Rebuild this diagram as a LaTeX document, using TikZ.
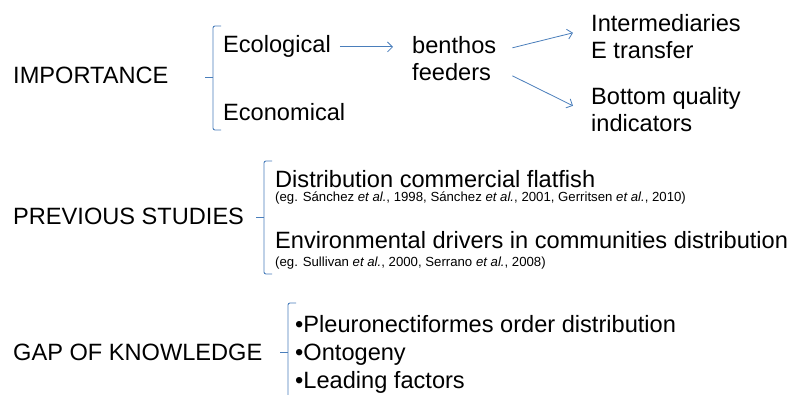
\documentclass[tikz,border=0pt]{standalone}
\usepackage{fontspec}
\setmainfont{Liberation Sans}
\usetikzlibrary{arrows.meta, positioning}
\definecolor{brakBlue}{HTML}{4A7EBB}
\tikzstyle{heading} = [anchor=base west, inner sep=0pt, font=\fontsize{23.6}{27.5}\selectfont]
\tikzstyle{item} = [heading, align=left]
\tikzstyle{cite} = [anchor=base west, inner sep=0pt, font=\fontsize{13.2}{15}\selectfont]
\tikzstyle{arrowFlow} = [brakBlue, line width=0.8pt, -{Straight Barb[length=5pt,width=10pt]}]
\tikzstyle{brak} = [brakBlue, line width=0.9pt, rounded corners=2pt]

\begin{document}
\begin{tikzpicture}[x=1pt, y=-1pt]

    \useasboundingbox (0,0) rectangle (800,395);

    % importance
    \node (imp) [heading] at (13,84) {IMPORTANCE};
    \node (eco) [heading] at (223,53) {Ecological};
    \node (econ) [heading] at (223,121) {Economical};
    \node (bent) [item] at (412,81) {benthos\\feeders};
    \node (inter) [item] at (591,59) {Intermediaries\\E transfer};
    \node (bottom) [item] at (591,132) {Bottom quality\\indicators};

    \draw [arrowFlow, shorten <=9pt, shorten >=19pt] (eco.east) -- (eco.east -| bent.west);
    \draw [arrowFlow] ([xshift=16pt, yshift=11pt]bent.east) -- ([xshift=-18pt, yshift=4pt]inter.west);
    \draw [arrowFlow] ([xshift=16pt, yshift=-17pt]bent.east) -- ([xshift=-18pt, yshift=4pt]bottom.west);

    % previous studies
    \node (prev) [heading] at (13,225) {PREVIOUS STUDIES};
    \node (distr) [heading] at (275,188) {Distribution commercial flatfish};
    \node (citA) [cite] at (275,202) {(eg. S\'anchez \textit{et al.}, 1998, S\'anchez \textit{et al.}, 2001, Gerritsen \textit{et al.}, 2010)};
    \node (env) [heading] at (275,249) {Environmental drivers in communities distribution};
    \node (citB) [cite] at (275,267) {(eg. Sullivan \textit{et al.}, 2000, Serrano \textit{et al.}, 2008)};

    % gap of knowledge
    \node (gap) [heading] at (13,360) {GAP OF KNOWLEDGE};
    \foreach \n/\txt [count=\i] in {pleu/Pleuronectiformes order distribution, onto/Ontogeny, lead/Leading factors} {
        \node (\n) [heading] at (295, {332+28*(\i-1)}) {•\txt};
    }

    % brackets
    \foreach \bx/\btop/\bbot/\bmid in {213/26/130/77, 264/161/274/217, 288/303/401/352} {
        \draw [brak] (\bx+8,\btop) -- (\bx,\btop) -- (\bx,\bbot) -- (\bx+8,\bbot);
        \draw [brak] (\bx,\bmid) -- (\bx-8,\bmid);
    }

\end{tikzpicture}
\end{document}
